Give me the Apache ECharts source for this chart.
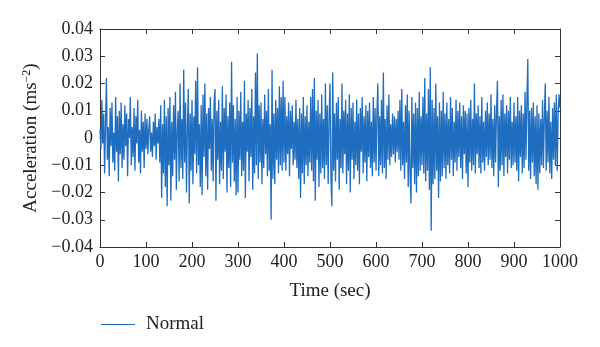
<!DOCTYPE html>
<html>
<head>
<meta charset="utf-8">
<script src="https://cdn.jsdelivr.net/npm/echarts@6/dist/echarts.min.js"></script>
<style>
  html, body { margin: 0; padding: 0; background: #fff; }
  #chart { width: 600px; height: 347px; }
</style>
</head>
<body>
<div id="chart"></div>
<script>
// Sampling interval of the record (sec)
const sampleStep = 2;

// Acceleration record, in 10^-3 ms^-2, one value per sample (t = 0 ... 1000 s)
const accelMilli = [
  3,-4,14,-2,9,-13,6,22,-8,4,-14,11,-3,13,-9,2,-12,15,-5,8,-16,10,-6,13,-11,
  5,-8,12,-3,9,-14,7,0,15,-10,4,-7,11,-12,8,-2,14,-9,3,-13,10,-5,6,-11,9,
  -4,7,-6,3,8,-5,2,-7,6,-3,9,-8,4,-2,7,-9,12,-22,5,-13,14,-18,8,-25,11,
  -10,15,-23,6,-14,12,-8,17,-19,3,10,-16,20,-11,7,-15,25,-9,13,-20,4,18,-24,9,-12,
  14,-17,8,-6,21,-13,26,-10,5,-18,12,-21,16,-7,20,-14,9,-19,11,-4,15,-12,7,-16,13,
  18,-23,10,-8,14,-17,6,-12,19,-15,11,-5,16,-20,8,-11,13,-18,28,-9,12,-16,7,-21,15,
  -20,10,-8,17,-14,6,-12,21,-22,9,-5,14,-16,11,-7,18,-19,8,-13,24,-10,31,-15,12,-9,
  13,-17,7,-11,16,-6,10,-14,18,-12,5,-30,25,-15,9,-17,14,-8,11,-13,19,-10,15,-12,21,
  -9,15,-12,8,-6,13,-14,10,-4,12,-10,6,-8,14,-11,7,-15,11,-22,9,-13,15,-17,8,-10,
  12,-14,6,-9,15,-12,18,-16,22,-23,10,-8,14,-18,9,-13,16,-11,7,-15,20,-10,12,-17,8,
  20,-14,-25,24,-12,9,-16,13,-8,15,-19,7,-11,20,-13,10,-6,14,-17,9,-12,16,-20,11,-8,
  13,-15,6,-10,14,-12,9,-17,11,-5,15,-13,8,-9,12,-16,10,-7,13,-11,6,-14,15,-9,11,
  -12,9,20,-14,8,-10,14,-13,24,-11,7,-15,12,-8,16,-10,5,-7,9,-6,8,-9,7,-5,10,
  -8,14,-12,18,-10,6,-15,12,-9,16,-18,10,-13,-24,15,-11,9,-17,13,-20,11,-14,17,-12,8,
  -10,15,-13,22,-16,9,-12,18,-19,26,-34,14,-17,11,-15,20,-12,8,-22,13,-16,10,-14,17,-11,
  9,-15,13,-10,7,-13,15,-8,11,-14,6,-9,14,-12,10,-7,13,-11,8,-15,12,-6,10,-13,9,
  -18,11,-9,14,-12,7,-10,20,-13,9,-6,12,-11,8,-13,15,-9,6,-12,10,-7,13,-10,9,-8,
  16,-11,7,-14,12,-9,10,21,-18,8,-12,14,-10,16,-14,9,-7,12,-13,10,-8,15,-11,6,-10,
  13,-9,8,-12,15,-16,10,-7,12,-13,9,-11,17,-8,14,29,-12,10,-15,11,-9,13,-14,8,-17,
  12,-19,9,-13,7,-10,14,-11,8,20,-12,10,-9,15,-13,6,-15,11,-8,13,-10,16,-12,9,16,
  11
];

const seriesName = 'Normal';
const xTitle = 'Time (sec)';

const points = accelMilli.map((v, i) => [i * sampleStep, v / 1000]);

const serif = '"Liberation Serif", "DejaVu Serif", serif';
const axisColor = '#333';
const textColor = '#222';
const lineColor = '#1f6dbf';

function yLabel(v) {
  const r = Math.round(v * 100) / 100;
  if (r === 0) return '0';
  return (r < 0 ? '\u2212' : '') + Math.abs(r).toFixed(2);
}

const chart = echarts.init(document.getElementById('chart'), null, { renderer: 'canvas' });

const baseTick = { show: true, inside: true, length: 5, lineStyle: { color: axisColor, width: 1 } };
const baseLine = { show: true, onZero: false, lineStyle: { color: axisColor, width: 1 } };

chart.setOption({
  animation: false,
  backgroundColor: '#fff',
  grid: { left: 100, right: 40, top: 29, bottom: 100, containLabel: false },
  legend: {
    data: [seriesName],
    left: 96, top: 310,
    itemWidth: 34, itemHeight: 20, itemGap: 10,
    textStyle: { fontFamily: serif, fontSize: 19, color: textColor, padding: [0, 0, 0, 6] },
    icon: 'path://M0,9.5 L34,9.5 L34,10.5 L0,10.5 Z'
  },
  xAxis: [
    {
      type: 'value', min: 0, max: 1000, interval: 100,
      name: xTitle, nameLocation: 'middle', nameGap: 35,
      nameTextStyle: { fontFamily: serif, fontSize: 19, color: textColor },
      axisLine: baseLine, axisTick: baseTick,
      axisLabel: { margin: 6, fontFamily: serif, fontSize: 18, color: textColor, formatter: v => String(v) },
      splitLine: { show: false }
    },
    {
      type: 'value', min: 0, max: 1000, interval: 100, position: 'top',
      axisLine: baseLine, axisTick: baseTick,
      axisLabel: { show: false }, splitLine: { show: false }
    }
  ],
  yAxis: [
    {
      type: 'value', min: -0.04, max: 0.04, interval: 0.01,
      name: 'Acceleration (ms{sup|\u22122})', nameLocation: 'middle', nameGap: 57, nameRotate: 90,
      nameTextStyle: {
        fontFamily: serif, fontSize: 19, color: textColor,
        rich: { sup: { fontFamily: serif, fontSize: 12, color: textColor, verticalAlign: 'top', padding: [0, 0, 9, 0] } }
      },
      axisLine: baseLine, axisTick: baseTick,
      axisLabel: { margin: 7, fontFamily: serif, fontSize: 18, color: textColor, formatter: yLabel },
      splitLine: { show: false }
    },
    {
      type: 'value', min: -0.04, max: 0.04, interval: 0.01, position: 'right',
      axisLine: baseLine, axisTick: baseTick,
      axisLabel: { show: false }, splitLine: { show: false }
    }
  ],
  series: [
    {
      name: seriesName, type: 'line', data: points,
      xAxisIndex: 0, yAxisIndex: 0,
      showSymbol: false, symbol: 'none',
      lineStyle: { color: lineColor, width: 1.3 },
      itemStyle: { color: lineColor }
    }
  ]
});
</script>
</body>
</html>
